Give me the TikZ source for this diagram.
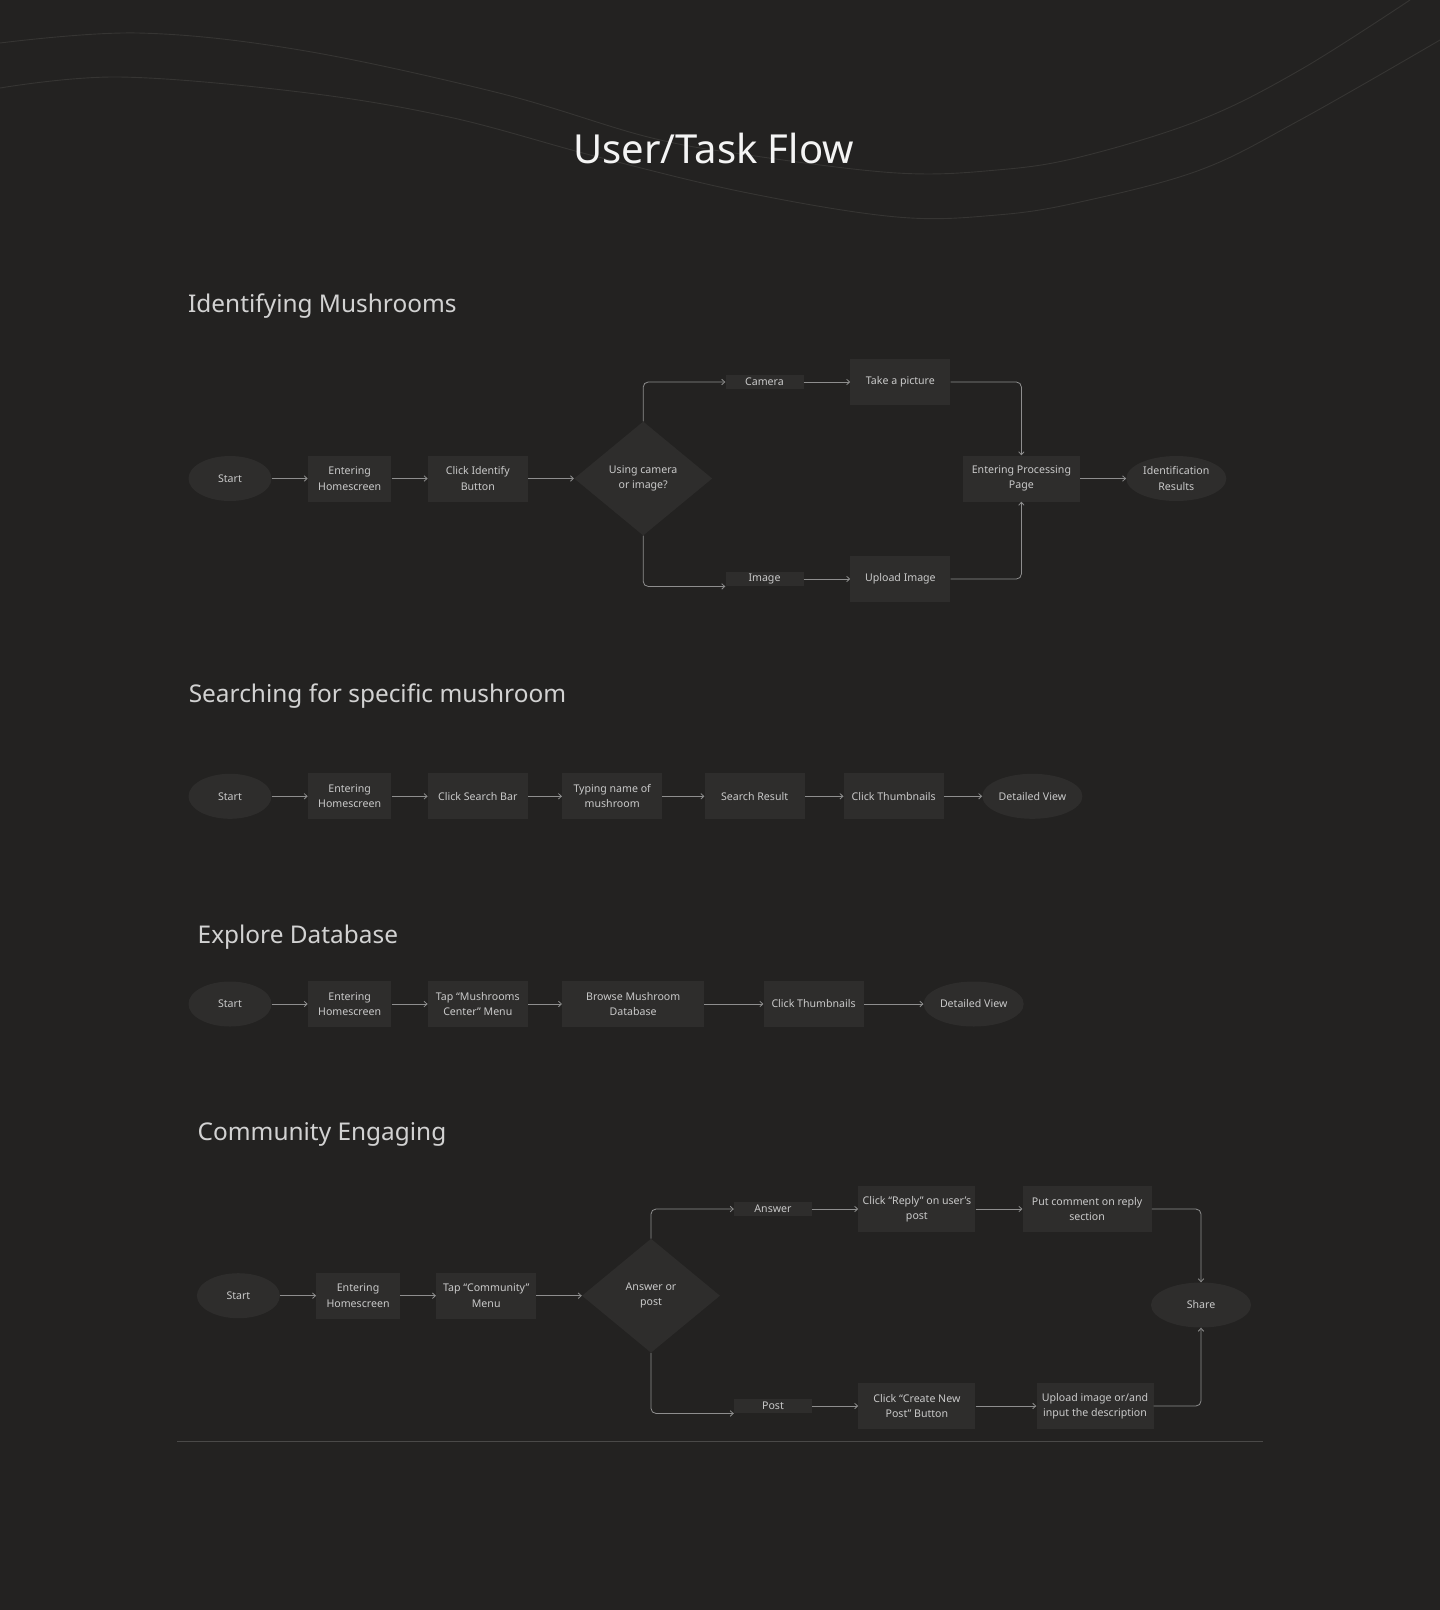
\documentclass[tikz,border=0pt]{standalone}
\usepackage{fontspec}
\setmainfont{Noto Sans}
\usetikzlibrary{positioning}
\usetikzlibrary{shapes.geometric}
\usetikzlibrary{arrows.meta}
\definecolor{bgc}{HTML}{232221}
\definecolor{boxc}{HTML}{2E2D2C}
\definecolor{txtc}{HTML}{CACACA}
\definecolor{headc}{HTML}{D2D2D2}
\definecolor{titlec}{HTML}{F4F4F4}
\definecolor{linec}{HTML}{8E8E8E}
\definecolor{wavec}{HTML}{363533}
\definecolor{divc}{HTML}{4A4948}

\begin{document}
\begin{tikzpicture}[x=1pt,y=-1pt,
  every node/.style={font=\fontsize{10.6}{15.3}\selectfont,text=txtc,align=center,inner sep=0pt},
  term/.style={ellipse,fill=boxc,minimum width=83pt,minimum height=45pt},
  stepbox/.style={rectangle,fill=boxc,minimum width=100pt,minimum height=46pt},
  choice/.style={diamond,fill=boxc,minimum width=138pt,minimum height=114pt},
  branch/.style={rectangle,fill=boxc,minimum width=78pt,minimum height=14.5pt},
  heading/.style={anchor=base west,font=\fontsize{24.4}{30}\selectfont,text=headc},
  flow/.style={draw=linec,line width=0.8pt,-{Straight Barb[length=3pt,width=5.5pt]}},
  elbow/.style={flow,rounded corners=5pt}]
  \useasboundingbox (0,0) rectangle (1440,1610);
  \fill[bgc] (0,0) rectangle (1440,1610);

  % background waves
  \draw[wavec,line width=0.9pt] plot[smooth,tension=0.6] coordinates {(0,43) (138,33) (300,50) (499,93) (648,137) (748,155) (897,173) (997,170) (1080,157) (1200,120) (1300,70) (1410,0)};
  \draw[wavec,line width=0.9pt] plot[smooth,tension=0.6] coordinates {(0,88) (119,77) (300,92) (449,117) (598,157) (748,193) (897,217) (997,215) (1080,202) (1200,170) (1300,120) (1440,40)};

  \node[anchor=base,font=\fontsize{40}{48}\selectfont,text=titlec] (ttl) at (713.5,163.5) {User/Task Flow};

  % identifying
  \node[heading] (h1) at (188,312) {Identifying Mushrooms};
  \node[term] (s1) at (230,478.5) {Start};
  \node[stepbox,minimum width=83.5pt,right=36pt of s1] (e1) {Entering\\Homescreen};
  \node[stepbox,right=36pt of e1] (c1) {Click Identify\\Button};
  \node[choice,right=46pt of c1] (d1) {Using camera\\or image?};
  \node[branch] (cam) at (764.5,382) {Camera};
  \node[stepbox,right=46.5pt of cam] (pic) {Take a picture};
  \node[branch] (img) at (764.5,579) {Image};
  \node[stepbox,right=46.5pt of img] (upl) {Upload Image};
  \node[stepbox,minimum width=117pt] (proc) at (1021.4,478.5) {Entering Processing\\Page};
  \node[term,minimum width=100pt,right=46pt of proc] (res) {Identification\\Results};
  \draw[flow] (s1.east) -- (e1.west);
  \draw[flow] (e1.east) -- (c1.west);
  \draw[flow] (c1.east) -- (d1.west);
  \draw[elbow] (d1.north) |- (cam.west);
  \draw[elbow] (d1.south) |- (img.south west);
  \draw[flow] (cam.east) -- (pic.west);
  \draw[flow] (img.east) -- (upl.west);
  \draw[elbow] (pic.east) -| (proc.north);
  \draw[elbow] (upl.east) -| (proc.south);
  \draw[flow] (proc.east) -- (res.west);

  % searching
  \node[heading] (h2) at (188.6,702) {Searching for specific mushroom};
  \node[term] (s2) at (230,796.3) {Start};
  \node[stepbox,minimum width=83.5pt,right=36pt of s2] (e2) {Entering\\Homescreen};
  \node[stepbox,right=36pt of e2] (sb2) {Click Search Bar};
  \node[stepbox,right=34pt of sb2] (ty2) {Typing name of\\mushroom};
  \node[stepbox,right=42pt of ty2] (sr2) {Search Result};
  \node[stepbox,right=38.7pt of sr2] (th2) {Click Thumbnails};
  \node[term,minimum width=100pt,right=38.3pt of th2] (dv2) {Detailed View};
  \draw[flow] (s2.east) -- (e2.west);
  \draw[flow] (e2.east) -- (sb2.west);
  \draw[flow] (sb2.east) -- (ty2.west);
  \draw[flow] (ty2.east) -- (sr2.west);
  \draw[flow] (sr2.east) -- (th2.west);
  \draw[flow] (th2.east) -- (dv2.west);

  % explore
  \node[heading] (h3) at (197.5,943) {Explore Database};
  \node[term] (s3) at (230,1004) {Start};
  \node[stepbox,minimum width=83.5pt,right=36pt of s3] (e3) {Entering\\Homescreen};
  \node[stepbox,right=36pt of e3] (tp3) {Tap “Mushrooms\\Center” Menu};
  \node[stepbox,minimum width=142pt,right=34pt of tp3] (br3) {Browse Mushroom\\Database};
  \node[stepbox,right=59pt of br3] (th3) {Click Thumbnails};
  \node[term,minimum width=100pt,right=59.7pt of th3] (dv3) {Detailed View};
  \draw[flow] (s3.east) -- (e3.west);
  \draw[flow] (e3.east) -- (tp3.west);
  \draw[flow] (tp3.east) -- (br3.west);
  \draw[flow] (br3.east) -- (th3.west);
  \draw[flow] (th3.east) -- (dv3.west);

  % community
  \node[heading] (h4) at (197.5,1140.7) {Community Engaging};
  \node[term] (s4) at (238.4,1295.7) {Start};
  \node[stepbox,minimum width=83.5pt,right=36pt of s4] (e4) {Entering\\Homescreen};
  \node[stepbox,right=36pt of e4] (tp4) {Tap “Community”\\Menu};
  \node[choice,right=45.4pt of tp4] (d4) {Answer or\\post};
  \node[branch] (ans) at (773,1209) {Answer};
  \node[stepbox,minimum width=117pt,right=46pt of ans] (rep) {Click “Reply” on user’s\\post};
  \node[stepbox,minimum width=129pt,right=46.8pt of rep] (com) {Put comment on reply\\section};
  \node[term,minimum width=100pt] (sh) at (1201,1305) {Share};
  \node[branch] (pst) at (773,1406) {Post};
  \node[stepbox,minimum width=117pt,right=46pt of pst] (cnp) {Click “Create New\\Post” Button};
  \node[stepbox,minimum width=117pt,right=60.7pt of cnp] (upi) {Upload image or/and\\input the description};
  \draw[flow] (s4.east) -- (e4.west);
  \draw[flow] (e4.east) -- (tp4.west);
  \draw[flow] (tp4.east) -- (d4.west);
  \draw[elbow] (d4.north) |- (ans.west);
  \draw[elbow] (d4.south) |- (pst.south west);
  \draw[flow] (ans.east) -- (rep.west);
  \draw[flow] (rep.east) -- (com.west);
  \draw[flow] (pst.east) -- (cnp.west);
  \draw[flow] (cnp.east) -- (upi.west);
  \draw[elbow] (com.east) -| (sh.north);
  \draw[elbow] (upi.east) -| (sh.south);

  \draw[divc,line width=0.8pt] (177,1441.5) -- (1262.5,1441.5);
\end{tikzpicture}
\end{document}
